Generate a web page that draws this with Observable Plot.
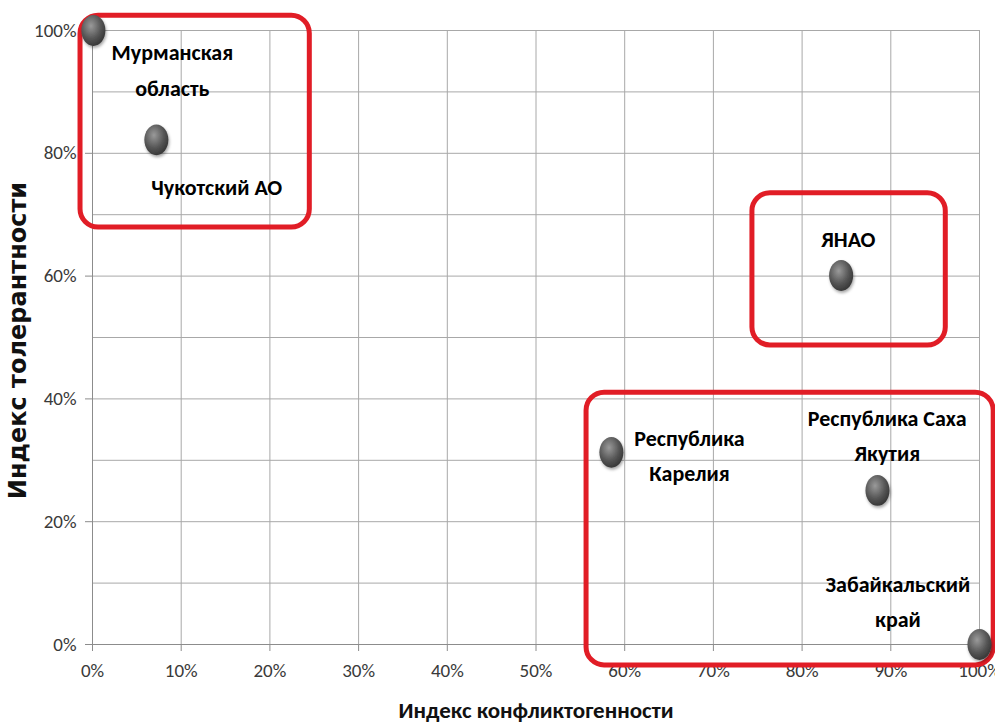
<!DOCTYPE html>
<html><head><meta charset="utf-8">
<script src="https://cdn.jsdelivr.net/npm/d3@7"></script>
<script src="https://cdn.jsdelivr.net/npm/@observablehq/plot@0.6"></script>
<style>body{margin:0;background:#fff}</style>
</head><body><div id="chart"></div>
<script>
// Data (percent)
const regions = ["Мурманская область", "Чукотский АО", "ЯНАО", "Республика Карелия", "Республика Саха Якутия", "Забайкальский край"];
const conflict = [0.1, 7.2, 84.4, 58.5, 88.5, 100];
const tolerance = [100, 82.2, 60.1, 31.3, 25.1, 0];
const labelText = ["Мурманская\nобласть", "Чукотский АО", "ЯНАО", "Республика\nКарелия", "Республика Саха\nЯкутия", "Забайкальский\nкрай"];
const labelX = [9.0, 14.0, 85.2, 67.3, 89.6, 90.8];
const labelY = [94.1, 75.0, 66.5, 31.3, 34.6, 7.6];
// Group frames (percent)
const groupX1 = [-1.35, 74.4, 55.7];
const groupX2 = [24.5, 96.2, 101.6];
const groupY1 = [67.9, 48.7, -3.4];
const groupY2 = [102.4, 73.5, 41.0];
const xTicks = [0, 10, 20, 30, 40, 50, 60, 70, 80, 90, 100];
const yTicks = [0, 20, 40, 60, 80, 100];
const yGrid = [0, 10, 20, 30, 40, 50, 60, 70, 80, 90, 100];
const xTitle = "Индекс конфликтогенности";
const yTitle = "Индекс толерантности";

const points = regions.map((r, i) => ({region: r, x: conflict[i], y: tolerance[i]}));
const labels = labelText.map((t, i) => ({text: t, x: labelX[i], y: labelY[i]}));
const groups = groupX1.map((d, i) => ({x1: groupX1[i], x2: groupX2[i], y1: groupY1[i], y2: groupY2[i]}));

const ellipse = {
  draw(ctx, size) {
    const r = Math.sqrt(size / Math.PI);
    const a = r * 0.86, b = r * 1.1, k = 0.5523;
    ctx.moveTo(a, 0);
    ctx.bezierCurveTo(a, k * b, k * a, b, 0, b);
    ctx.bezierCurveTo(-k * a, b, -a, k * b, -a, 0);
    ctx.bezierCurveTo(-a, -k * b, -k * a, -b, 0, -b);
    ctx.bezierCurveTo(k * a, -b, a, -k * b, a, 0);
    ctx.closePath();
  }
};

const pct = d => d + "%";
const tickFont = "Carlito, 'Liberation Sans Narrow', 'Open Sans', sans-serif";
const boldFont = "Carlito, 'Liberation Sans Narrow', 'DejaVu Sans Condensed', sans-serif";

const chart = Plot.plot({
  width: 995,
  height: 728,
  marginLeft: 92,
  marginRight: 16,
  marginTop: 30,
  marginBottom: 84,
  style: {fontFamily: tickFont, background: "#fff"},
  x: {domain: [0, 100]},
  y: {domain: [0, 100]},
  marks: [
    Plot.gridX(xTicks, {stroke: "#a8a8a8", strokeOpacity: 1}),
    Plot.gridY(yGrid, {stroke: "#a8a8a8", strokeOpacity: 1}),
    Plot.ruleX([0], {stroke: "#8c8c8c"}),
    Plot.ruleY([0], {stroke: "#8c8c8c"}),
    Plot.axisX(xTicks, {tickFormat: pct, tickSize: 7, tickPadding: 12, fontSize: 19, color: "#3a3a3a", stroke: "#8c8c8c", label: null}),
    Plot.axisY(yTicks, {tickFormat: pct, tickSize: 7, tickPadding: 9, fontSize: 19, color: "#3a3a3a", stroke: "#8c8c8c", label: null}),
    Plot.text([xTitle], {frameAnchor: "bottom", dy: 73, fontSize: 23, fontWeight: "bold", fontFamily: boldFont, fill: "#111"}),
    Plot.text([yTitle], {frameAnchor: "left", textAnchor: "middle", rotate: -90, dx: -74, dy: 3, fontSize: 24, fontWeight: "bold", fontFamily: "'DejaVu Sans', sans-serif", fill: "#111"}),
    Plot.rect(groups, {x1: "x1", x2: "x2", y1: "y1", y2: "y2", fill: "none", stroke: "#e11d26", strokeWidth: 5, rx: 18}),
    Plot.dot(points, {x: "x", y: "y", r: 14, symbol: ellipse, fill: "url(#ball)", stroke: "none"}),
    Plot.text(labels, {x: "x", y: "y", text: "text", fontSize: 22, lineHeight: 1.6, fontWeight: "bold", fontFamily: boldFont, fill: "#000", lineAnchor: "middle"})
  ]
});

const svg = d3.select(chart);
const defs = svg.insert("defs", ":first-child");
const g = defs.append("radialGradient").attr("id", "ball").attr("cx", "40%").attr("cy", "35%").attr("r", "70%");
g.append("stop").attr("offset", "0%").attr("stop-color", "#9a9a9a");
g.append("stop").attr("offset", "60%").attr("stop-color", "#555");
g.append("stop").attr("offset", "100%").attr("stop-color", "#333");
const f = defs.append("filter").attr("id", "shadow").attr("x", "-50%").attr("y", "-50%").attr("width", "200%").attr("height", "200%");
f.append("feDropShadow").attr("dx", 1).attr("dy", 2).attr("stdDeviation", 1.5).attr("flood-color", "#000").attr("flood-opacity", 0.35);
svg.selectAll("g[aria-label=dot] path").style("filter", "url(#shadow)");

document.getElementById("chart").appendChild(chart);
</script>
</body></html>
